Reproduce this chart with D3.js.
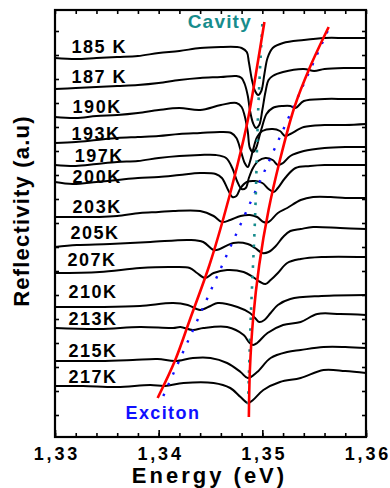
<!DOCTYPE html>
<html><head><meta charset="utf-8">
<script src="https://cdn.jsdelivr.net/npm/d3@7"></script>
<style>
html,body{margin:0;padding:0;background:#fff;}
svg{display:block;}
text{font-family:"Liberation Sans",Arial,Helvetica,sans-serif;font-weight:bold;}
</style>
</head><body>
<svg id="chart" width="390" height="488"></svg>
<script>
// ---------- data ----------
const xTickValues = [1.33, 1.34, 1.35, 1.36];
const xTickLabels = ["1,33", "1,34", "1,35", "1,36"];
const yTickValues = [2.2, 4.6, 7.0, 9.4, 11.8, 14.2, 16.6, 19.0, 21.4, 23.8, 26.2, 28.6, 31.0, 33.4, 35.8, 38.2, 40.6];

const temperatureLabels = ["185 K", "187 K", "190K", "193K", "197K", "200K", "203K", "205K", "207K", "210K", "213K", "215K", "217K"];
const labelEnergy = [1.3316, 1.3316, 1.3317, 1.3316, 1.3319, 1.3317, 1.3317, 1.3315, 1.3312, 1.3313, 1.3313, 1.3313, 1.3313];
const labelLevel = [38.4, 35.4, 32.4, 29.7, 27.5, 25.4, 22.4, 19.8, 17.1, 13.9, 11.2, 8.0, 5.4];

// spectra: [energy (eV), reflectivity (a.u., offset)]
const s185 = [[1.330,37.9],[1.332,37.8],[1.334,37.9],[1.336,38.0],[1.338,38.1],[1.340,38.4],[1.342,38.6],[1.344,38.9],[1.346,39.0],[1.3475,39.0],[1.348,38.9],[1.3485,38.5],[1.3487,37.5],[1.3490,35.7],[1.3493,34.6],[1.3496,34.2],[1.3499,34.6],[1.3502,36.3],[1.3505,37.9],[1.3510,38.9],[1.3520,39.4],[1.3540,39.7],[1.3560,39.9],[1.3580,39.9],[1.3600,39.9]];
const s187 = [[1.330,34.8],[1.332,34.9],[1.334,35.0],[1.336,35.1],[1.338,35.2],[1.340,35.4],[1.342,35.7],[1.344,35.9],[1.346,36.0],[1.3475,36.1],[1.348,35.9],[1.3483,35.3],[1.3486,34.1],[1.3488,32.7],[1.3491,31.4],[1.3494,30.9],[1.3497,31.2],[1.3500,32.7],[1.3503,34.5],[1.3506,35.7],[1.3510,36.1],[1.3520,36.5],[1.3540,36.8],[1.3550,36.6],[1.3560,36.8],[1.3580,36.9],[1.3600,36.9]];
const s190 = [[1.330,32.0],[1.332,31.9],[1.334,32.1],[1.336,32.2],[1.338,32.4],[1.340,32.7],[1.342,32.9],[1.344,32.7],[1.346,33.2],[1.3475,33.4],[1.348,33.0],[1.3483,32.1],[1.3486,30.5],[1.3488,28.9],[1.3491,28.5],[1.3494,28.9],[1.3497,30.0],[1.3500,31.1],[1.3504,32.3],[1.3510,32.9],[1.3520,33.1],[1.3527,33.1],[1.3532,32.9],[1.3540,33.6],[1.3560,33.8],[1.3580,33.8],[1.3600,33.8]];
const s193 = [[1.330,29.4],[1.332,29.5],[1.334,29.7],[1.336,29.9],[1.338,30.0],[1.340,30.1],[1.342,30.3],[1.344,30.4],[1.346,30.5],[1.3470,30.4],[1.3475,29.9],[1.3479,28.7],[1.3483,27.4],[1.3486,27.0],[1.3488,27.5],[1.3491,28.7],[1.3495,30.0],[1.3500,30.6],[1.3510,30.8],[1.3517,30.6],[1.3522,30.1],[1.3527,30.3],[1.3540,31.0],[1.3560,31.2],[1.3580,31.2],[1.3600,31.3]];
const s197 = [[1.330,27.2],[1.332,27.1],[1.334,27.3],[1.336,27.5],[1.338,27.6],[1.340,27.9],[1.342,28.1],[1.344,28.2],[1.3455,28.2],[1.3465,27.9],[1.3471,26.9],[1.3476,25.5],[1.3480,24.8],[1.3484,24.9],[1.3487,25.9],[1.3491,26.9],[1.3496,27.6],[1.3503,27.9],[1.3510,27.7],[1.3515,27.2],[1.3520,27.4],[1.3527,28.1],[1.3540,28.6],[1.3560,28.9],[1.3580,29.0],[1.3600,29.0]];
const s200 = [[1.330,25.5],[1.3317,25.3],[1.334,25.5],[1.336,25.7],[1.338,25.9],[1.340,26.0],[1.342,26.2],[1.344,26.4],[1.3455,26.3],[1.3461,25.9],[1.3467,24.7],[1.3471,24.0],[1.3475,24.1],[1.3479,24.9],[1.3485,25.5],[1.3493,25.6],[1.3500,25.4],[1.3506,24.8],[1.3511,24.5],[1.3515,24.9],[1.3522,25.9],[1.3532,26.9],[1.3546,27.1],[1.3560,27.2],[1.3580,27.2],[1.3600,27.2]];
const s203 = [[1.330,22.0],[1.332,22.0],[1.3343,22.0],[1.336,22.1],[1.3382,22.4],[1.340,22.5],[1.3414,22.6],[1.344,22.6],[1.3453,22.1],[1.3461,21.5],[1.3469,21.7],[1.3479,22.1],[1.3488,22.2],[1.3495,22.0],[1.3501,21.5],[1.3506,21.5],[1.3515,22.4],[1.3524,22.9],[1.3537,23.7],[1.3549,24.0],[1.3566,24.0],[1.358,23.9],[1.360,23.9]];
const s205 = [[1.330,19.0],[1.3321,19.2],[1.3353,19.3],[1.3392,19.5],[1.3430,19.7],[1.3443,19.5],[1.3453,18.7],[1.3459,18.8],[1.3472,19.4],[1.3486,19.3],[1.3493,18.9],[1.3500,18.4],[1.3506,18.5],[1.3513,19.1],[1.3520,20.0],[1.3527,20.6],[1.3537,20.8],[1.3549,21.0],[1.3575,20.9],[1.3600,20.8]];
const s207 = [[1.330,16.4],[1.3343,16.5],[1.3382,16.9],[1.3414,17.0],[1.3430,16.9],[1.3437,16.4],[1.3445,15.9],[1.3453,16.4],[1.3466,16.7],[1.3482,16.5],[1.3491,16.0],[1.3498,15.5],[1.3503,15.3],[1.3508,15.7],[1.3515,16.4],[1.3524,17.4],[1.3537,17.8],[1.3557,18.0],[1.3600,18.0]];
const s210 = [[1.330,13.0],[1.3343,13.0],[1.3382,13.1],[1.3414,13.4],[1.3428,13.2],[1.3440,12.7],[1.3450,13.1],[1.3457,13.4],[1.3476,13.0],[1.3488,12.4],[1.3493,11.9],[1.3497,11.5],[1.3502,11.7],[1.3508,12.4],[1.3515,13.2],[1.3527,13.8],[1.3557,14.1],[1.3600,14.2]];
const s213 = [[1.330,10.9],[1.3343,10.8],[1.3382,11.0],[1.3414,10.9],[1.3421,11.0],[1.3433,10.7],[1.3443,10.9],[1.3466,11.0],[1.3482,10.2],[1.3487,9.5],[1.3491,9.2],[1.3495,9.4],[1.3505,10.4],[1.3520,11.2],[1.3537,11.5],[1.3553,12.3],[1.3575,12.3],[1.3600,12.2]];
const s215 = [[1.330,7.6],[1.3343,7.6],[1.3375,7.7],[1.3399,7.8],[1.3416,7.6],[1.3433,7.9],[1.3450,7.9],[1.3466,7.4],[1.3479,6.5],[1.3486,5.9],[1.3495,6.5],[1.3508,7.9],[1.3524,8.5],[1.3537,8.7],[1.3559,9.0],[1.358,9.0],[1.360,8.9]];
const s217 = [[1.330,5.1],[1.3327,5.1],[1.336,5.0],[1.3392,5.2],[1.3406,5.1],[1.3424,5.4],[1.3453,5.4],[1.3469,4.9],[1.3479,4.0],[1.3486,3.4],[1.3491,3.7],[1.3501,4.7],[1.3517,5.5],[1.3537,5.9],[1.3559,6.7],[1.358,6.6],[1.360,6.4]];
const spectra = [s185, s187, s190, s193, s197, s200, s203, s205, s207, s210, s213, s215, s217];

// guide lines
const lowerBranchFit = [[1.3502,41.5],[1.3496,37.7],[1.3486,31.7],[1.3476,27.2],[1.3462,21.7],[1.3449,17.2],[1.3430,11.7],[1.3416,7.7],[1.3399,3.9]];
const upperBranchFit = [[1.3564,41.0],[1.3546,37.0],[1.3531,33.0],[1.3517,27.7],[1.3506,22.7],[1.3497,17.2],[1.3491,11.7],[1.3488,6.7],[1.3487,2.0]];
const cavityLine = [[1.3500,41.3],[1.3496,32.7],[1.3493,22.0],[1.3489,12.4],[1.3486,2.6]];
const excitonLine = [[1.3563,40.6],[1.3404,4.0]];

// ---------- drawing ----------
const svg = d3.select("#chart");
const L = 55, R = 366, T = 10, B = 437;
const x = d3.scaleLinear().domain([1.33, 1.36]).range([L, R]);
const y = d3.scaleLinear().domain([0, 42.7]).range([B, T]);

const g = svg.append("g");

// spectra
const spec = d3.line().x(d => x(d[0])).y(d => y(d[1])).curve(d3.curveCatmullRom.alpha(0.5));
g.selectAll("path.spec").data(spectra).enter().append("path")
  .attr("class", "spec").attr("d", spec)
  .attr("fill", "none").attr("stroke", "#000").attr("stroke-width", 2).attr("stroke-linejoin", "round");

// labels
g.selectAll("text.tl").data(temperatureLabels).enter().append("text")
  .attr("class", "tl")
  .attr("x", (d, i) => x(labelEnergy[i]))
  .attr("y", (d, i) => y(labelLevel[i]))
  .attr("font-size", 18).attr("letter-spacing", 1.5).attr("fill", "#000")
  .text(d => d);

// dotted guides
const guide = d3.line().x(d => x(d[0])).y(d => y(d[1])).curve(d3.curveCatmullRom.alpha(0.5));
g.append("path").attr("d", guide(excitonLine)).attr("fill", "none")
  .attr("stroke", "#1010ff").attr("stroke-width", 2.4).attr("stroke-dasharray", "2.4,9.3");
g.append("path").attr("d", guide(cavityLine)).attr("fill", "none")
  .attr("stroke", "#178c8c").attr("stroke-width", 2.6).attr("stroke-dasharray", "2.6,7.9");

// red fits
g.append("path").attr("d", guide(lowerBranchFit)).attr("fill", "none")
  .attr("stroke", "#ff0000").attr("stroke-width", 2.6);
g.append("path").attr("d", guide(upperBranchFit)).attr("fill", "none")
  .attr("stroke", "#ff0000").attr("stroke-width", 2.6);

// annotations
g.append("text").attr("x", x(1.3428)).attr("y", y(40.9)).attr("font-size", 19)
  .attr("letter-spacing", 1.2).attr("fill", "#178c8c").text("Cavity");
g.append("text").attr("x", x(1.3368)).attr("y", y(1.8)).attr("font-size", 18)
  .attr("letter-spacing", 1.4).attr("fill", "#1010ff").text("Exciton");

// axes
const minorX = d3.range(0, 16).map(i => 1.33 + i * 0.002);
const ax = svg.append("g");
function styleAxis(sel) { sel.select(".domain").remove(); sel.selectAll("line").attr("stroke", "#000").attr("stroke-width", 1.6); }
ax.append("g").attr("transform", `translate(0,${B})`)
  .call(d3.axisBottom(x).tickValues(minorX).tickSize(-4).tickFormat("")).call(styleAxis);
ax.append("g").attr("transform", `translate(0,${B})`)
  .call(d3.axisBottom(x).tickValues(xTickValues).tickSize(-7).tickFormat((d, i) => xTickLabels[i]))
  .call(styleAxis)
  .call(s => s.selectAll("text").attr("font-size", 18).attr("letter-spacing", 2.8)
     .attr("font-family", "Liberation Sans, Arial, sans-serif").attr("font-weight", "bold").attr("fill", "#000")
     .attr("dy", 0).attr("y", 22.5).attr("dx", 1.4));
ax.append("g").attr("transform", `translate(0,${T})`)
  .call(d3.axisTop(x).tickValues(minorX).tickSize(-4).tickFormat("")).call(styleAxis);
ax.append("g").attr("transform", `translate(${L},0)`)
  .call(d3.axisLeft(y).tickValues(yTickValues).tickSize(-4).tickFormat("")).call(styleAxis);
ax.append("g").attr("transform", `translate(${R},0)`)
  .call(d3.axisRight(y).tickValues(yTickValues).tickSize(-4).tickFormat("")).call(styleAxis);

svg.append("rect").attr("x", L).attr("y", T).attr("width", R - L).attr("height", B - T)
  .attr("fill", "none").attr("stroke", "#000").attr("stroke-width", 2.2);

// titles
svg.append("text").attr("x", (L + R) / 2 - 1).attr("y", 483.3).attr("text-anchor", "middle")
  .attr("font-size", 22).attr("letter-spacing", 3.0).attr("fill", "#000").text("Energy (eV)");
svg.append("text").attr("transform", "translate(29,211) rotate(-90)").attr("text-anchor", "middle")
  .attr("font-size", 22).attr("letter-spacing", 1.2).attr("fill", "#000").text("Reflectivity (a.u)");
</script>
</body></html>
